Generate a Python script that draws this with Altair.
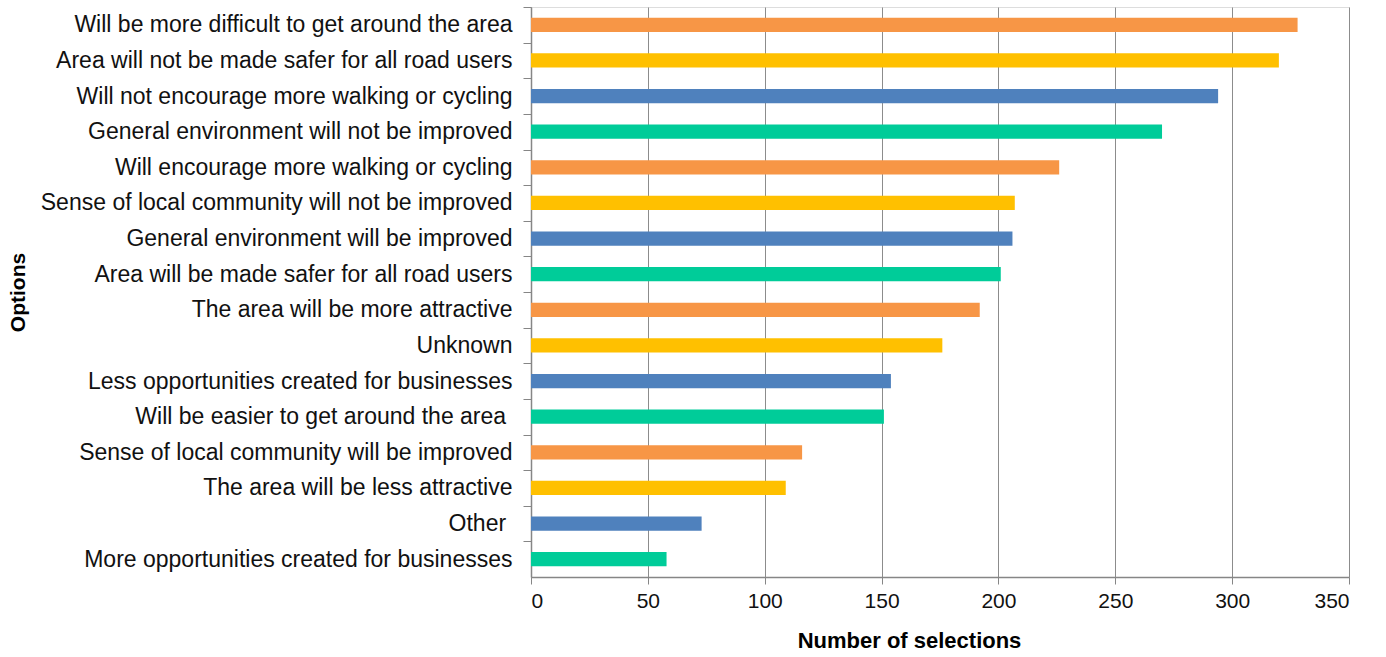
import altair as alt
import pandas as pd

# Survey responses: option text and number of times it was selected
options = [
    "Will be more difficult to get around the area",
    "Area will not be made safer for all road users",
    "Will not encourage more walking or cycling",
    "General environment will not be improved",
    "Will encourage more walking or cycling",
    "Sense of local community will not be improved",
    "General environment will be improved",
    "Area will be made safer for all road users",
    "The area will be more attractive",
    "Unknown",
    "Less opportunities created for businesses",
    "Will be easier to get around the area\u00a0\u200d",
    "Sense of local community will be improved",
    "The area will be less attractive",
    "Other\u00a0\u200d",
    "More opportunities created for businesses",
]
selections = [328, 320, 294, 270, 226, 207, 206, 201, 192, 176, 154, 151, 116, 109, 73, 58]
x_ticks = [0, 50, 100, 150, 200, 250, 300, 350]

# Bars cycle through four colours, top to bottom
palette = ["#F79646", "#FFC000", "#4F81BD", "#00CC99"]

df = pd.DataFrame({
    "Option": options,
    "Selections": selections,
    "Cycle": [i % len(palette) for i in range(len(options))],
})

PLOT_W = 818
PLOT_H = 570
STEP = PLOT_H / len(options)
FONT = "Liberation Sans"
AXIS_GREY = "#868686"

chart = (
    alt.Chart(df)
    .mark_bar()
    .encode(
        x=alt.X(
            "Selections:Q",
            scale=alt.Scale(domain=[0, 350], nice=False),
            axis=alt.Axis(
                title="Number of selections",
                values=x_ticks,
                grid=True,
                gridColor="#8c8c8c",
                gridWidth=1,
                domainColor=AXIS_GREY,
                domainWidth=1.5,
                tickColor=AXIS_GREY,
                tickSize=7,
                labelFont=FONT,
                labelFontSize=21,
                labelColor="#111111",
                labelPadding=6,
                titleFont=FONT,
                titleFontSize=22,
                titleFontWeight="bold",
                titleColor="#000000",
                titleX=378,
                titleY=63,
                titleBaseline="middle",
            ),
        ),
        y=alt.Y(
            "Option:N",
            sort=options,
            scale=alt.Scale(paddingInner=0.6, paddingOuter=0.3),
            axis=alt.Axis(
                title="Options",
                grid=False,
                domainColor=AXIS_GREY,
                domainWidth=1.5,
                tickColor=AXIS_GREY,
                tickSize=8,
                tickOffset=-STEP / 2,
                labelOffset=STEP / 2,
                labelFont=FONT,
                labelFontSize=23,
                labelColor="#111111",
                labelPadding=11,
                labelLimit=0,
                titleFont=FONT,
                titleFontSize=21,
                titleFontWeight="bold",
                titleColor="#000000",
                titleAngle=270,
                titleX=-513,
                titleY=PLOT_H / 2,
                titleAlign="center",
                titleBaseline="middle",
            ),
        ),
        color=alt.Color(
            "Cycle:O",
            scale=alt.Scale(domain=list(range(len(palette))), range=palette),
            legend=None,
        ),
    )
    .properties(
        width=PLOT_W,
        height=PLOT_H,
        autosize=alt.AutoSizeParams(type="none"),
        padding={"left": 531, "top": 7, "right": 37, "bottom": 80},
    )
    .configure_view(stroke=None)
    .configure(background="white")
)

chart.save("out.html", embed_options={"renderer": "svg", "actions": False})
